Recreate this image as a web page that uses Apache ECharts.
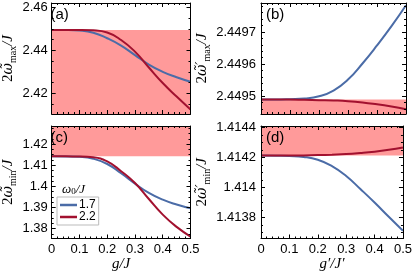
<!DOCTYPE html>
<html><head><meta charset="utf-8">
<script src="https://cdn.jsdelivr.net/npm/echarts@6/dist/echarts.min.js"></script>
<style>html,body{margin:0;padding:0;background:#fff}#c{width:415px;height:273px}</style>
</head><body><div id="c"></div>
<script>
// ---- data ----
const G = [0, 0.05, 0.1, 0.15, 0.2, 0.25, 0.3, 0.35, 0.4, 0.45, 0.5];
const SERIES_NAMES = ['1.7', '2.2'];
const A_BLUE = [2.44949, 2.44945, 2.4492, 2.4482, 2.4456, 2.4422, 2.4378, 2.4334, 2.4300, 2.4275, 2.4254];
const A_RED  = [2.44949, 2.44949, 2.44947, 2.4493, 2.4483, 2.4448, 2.4394, 2.4320, 2.4248, 2.4185, 2.4125];
const B_BLUE = [2.449490, 2.449490, 2.449491, 2.449493, 2.449500, 2.449518, 2.449552, 2.449602, 2.449658, 2.449718, 2.449783];
const B_RED  = [2.449490, 2.449490, 2.449490, 2.449489, 2.449488, 2.449487, 2.449485, 2.449481, 2.449475, 2.449468, 2.449460];
const C_BLUE = [1.41421, 1.41419, 1.41400, 1.4131, 1.4106, 1.4062, 1.4013, 1.3969, 1.3937, 1.3914, 1.3896];
const C_RED  = [1.41421, 1.41421, 1.41418, 1.4138, 1.4118, 1.4072, 1.4016, 1.3940, 1.3866, 1.3808, 1.3762];
const D_BLUE = [1.414213, 1.414212, 1.414210, 1.414204, 1.414185, 1.414143, 1.414077, 1.413990, 1.413900, 1.413805, 1.413712];
const D_RED  = [1.414213, 1.414213, 1.414213, 1.414214, 1.414216, 1.414219, 1.414223, 1.414230, 1.414239, 1.414251, 1.414266];
const SHADE_MAX = 2.4494897;   // sqrt(6)
const SHADE_MIN = 1.4142136;   // sqrt(2)
const X_TICKS = [0, 0.1, 0.2, 0.3, 0.4, 0.5];
const Y_TICKS_A = [2.42, 2.44, 2.46];
const Y_TICKS_B = [2.4495, 2.4496, 2.4497];
const Y_TICKS_C = [1.38, 1.39, 1.40, 1.41, 1.42];
const Y_TICKS_D = [1.4138, 1.4140, 1.4142, 1.4144];

// ---- styles ----
const BLUE = '#4b6ca7', RED = '#a2112f', SHADE = '#ff9a9a';
const SANS = 'Liberation Sans', SERIF = 'Liberation Serif';

const panels = [
  {grid:{left:45.5, top:3, width:145, height:111}, yr:[2.4104, 2.4620], ticks:Y_TICKS_A, minor:0.005,
   blue:A_BLUE, red:A_RED, shade:SHADE_MAX, origin:'start', sym:"ω̃", sub:'max', xlab:false, lm:4, ng:33, label:'(a)'},
  {grid:{left:261, top:3, width:145, height:111}, yr:[2.449445, 2.44979], ticks:Y_TICKS_B, minor:0.00002,
   blue:B_BLUE, red:B_RED, shade:SHADE_MAX, origin:'start', sym:"ω̃′", sub:'max', xlab:false, lm:5, ng:41, label:'(b)'},
  {grid:{left:45.5, top:126, width:145, height:113}, yr:[1.3753, 1.4286], ticks:Y_TICKS_C, minor:0.0025,
   blue:C_BLUE, red:C_RED, shade:SHADE_MIN, origin:'end', sym:"ω̃", sub:'min', xlab:true, lm:4, ng:33, label:'(c)',
   xname:'{i|g}{i|/J}'},
  {grid:{left:261, top:126, width:145, height:113}, yr:[1.41366, 1.41441], ticks:Y_TICKS_D, minor:0.00005,
   blue:D_BLUE, red:D_RED, shade:SHADE_MIN, origin:'end', sym:"ω̃′", sub:'min', xlab:true, lm:5, ng:41, label:'(d)',
   xname:'{i|g′}{i|/J′}'}
];

const fmt = v => String(+(+v).toFixed(6));
const richName = {
  r:{fontFamily:SERIF, fontSize:15, fontStyle:'normal', color:'#000', lineHeight:20},
  w:{fontFamily:'DejaVu Serif', fontSize:14, fontStyle:'italic', color:'#000', lineHeight:20},
  i:{fontFamily:SERIF, fontSize:15, fontStyle:'italic', color:'#000', lineHeight:20},
  s:{fontFamily:SERIF, fontSize:10, fontStyle:'normal', color:'#000', verticalAlign:'bottom'}
};
function minors(lo, hi, step){
  const out=[]; let k=Math.ceil(lo/step);
  while(k*step<=hi+1e-12){ out.push(+(k*step).toFixed(9)); k++; }
  return out;
}
const grids=[], xAxes=[], yAxes=[], series=[], graphics=[];
panels.forEach((p, i) => {
  grids.push(Object.assign({containLabel:false}, p.grid));
  const lineCommon = {show:true, onZero:false, lineStyle:{color:'#000', width:1}};
  ['bottom','top'].forEach((pos, j) => {
    xAxes.push({gridIndex:i, type:'value', position:pos, min:0, max:0.5, interval:0.1, z:5,
      axisLine:lineCommon,
      axisTick:{show:true, inside:true, length:4, lineStyle:{color:'#000', width:1}},
      minorTick:{show:true, splitNumber:5, length:2, lineStyle:{color:'#000', width:1}},
      splitLine:{show:false}, minorSplitLine:{show:false},
      axisLabel:{show: p.xlab && j===0, margin:4, fontFamily:SANS, fontSize:13, color:'#000', formatter:fmt,
        customValues:X_TICKS},
      name: (p.xlab && j===0) ? p.xname : '', nameLocation:'middle', nameGap:16,
      nameTextStyle:{rich:richName}
    });
  });
  const mn = minors(p.yr[0], p.yr[1], p.minor);
  ['left','right'].forEach((pos, j) => {
    yAxes.push({gridIndex:i, type:'value', position:pos, min:p.yr[0], max:p.yr[1], z:5,
      axisLine:lineCommon,
      axisTick:{show:true, inside:true, length:4, customValues:p.ticks, lineStyle:{color:'#000', width:1}},
      splitLine:{show:false},
      axisLabel:{show:j===0, margin:p.lm, fontFamily:SANS, fontSize:13, color:'#000', customValues:p.ticks, formatter:fmt},
      name: j===0 ? ('{r|2}{w|' + p.sym + '}{s|' + p.sub + '}{i|/J}') : '',
      nameLocation:'middle', nameRotate:90, nameGap:p.ng,
      nameTextStyle:{rich:richName}
    });
    yAxes.push({gridIndex:i, type:'value', position:pos, min:p.yr[0], max:p.yr[1], z:5,
      axisLine:{show:false, onZero:false},
      axisTick:{show:true, inside:true, length:2, customValues:mn, lineStyle:{color:'#000', width:1}},
      splitLine:{show:false}, axisLabel:{show:false}
    });
  });
  const xi = i*2, yi = i*4;
  series.push({type:'line', xAxisIndex:xi, yAxisIndex:yi, z:1, silent:true, symbol:'none',
    data:[[G[0], p.shade], [G[G.length-1], p.shade]],
    lineStyle:{width:0, opacity:0}, areaStyle:{color:SHADE, opacity:1, origin:p.origin}});
  [[p.blue, BLUE, SERIES_NAMES[0]], [p.red, RED, SERIES_NAMES[1]]].forEach(([vals, col, nm]) => {
    series.push({type:'line', name:nm, xAxisIndex:xi, yAxisIndex:yi, z:3, symbol:'none',
      smooth:0.5,
      data:G.map((g, k) => [g, vals[k]]), lineStyle:{color:col, width:2}, itemStyle:{color:col}});
  });
  graphics.push({type:'text', left:p.grid.left+5, top:p.grid.top+4, z:10,
    style:{text:p.label, font:'15px "Liberation Sans"', fill:'#000'}});
});
graphics.push({type:'text', left:62, top:183, z:10,
  style:{text:'{i|ω}{s|0}{i|/J}', rich:{
    i:{fontFamily:SERIF, fontStyle:'italic', fontSize:13, fill:'#000', lineHeight:14},
    s:{fontFamily:SERIF, fontSize:9, fill:'#000', verticalAlign:'bottom'}}}});

const chart = echarts.init(document.getElementById('c'), null, {renderer:'canvas'});
chart.setOption({
  animation:false,
  grid:grids, xAxis:xAxes, yAxis:yAxes, series:series, graphic:graphics,
  legend:{show:true, data:SERIES_NAMES, orient:'vertical', left:57, top:197,
    padding:[2,3,2,3], itemGap:0, itemWidth:17, itemHeight:2.5, icon:'rect',
    borderColor:'#bbb', borderWidth:1, borderRadius:0, backgroundColor:'#fff',
    textStyle:{fontFamily:SANS, fontSize:12, color:'#000', lineHeight:11, padding:[0,0,0,-3]}}
});
</script></body></html>
